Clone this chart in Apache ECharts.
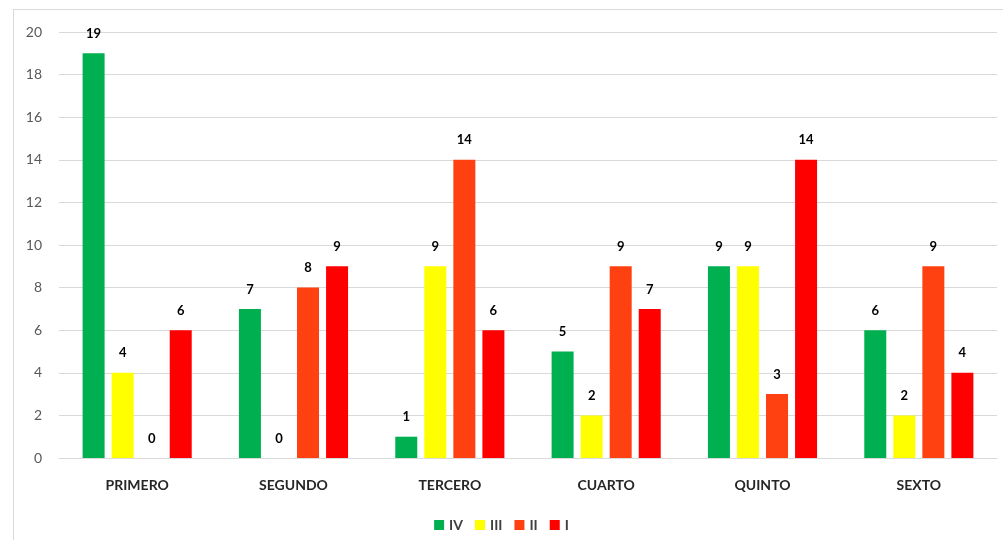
<!DOCTYPE html>
<html><head><meta charset="utf-8">
<script src="https://cdn.jsdelivr.net/npm/echarts@6/dist/echarts.min.js"></script>
<style>html,body{margin:0;padding:0;background:#fff}#c{width:1003px;height:540px}
#frame{position:absolute;left:13px;top:9px;width:995px;height:540px;border:1px solid #d9d9d9;box-sizing:border-box;pointer-events:none}
</style></head><body>
<div id="c"></div><div id="frame"></div>
<script>
const categories = ['PRIMERO','SEGUNDO','TERCERO','CUARTO','QUINTO','SEXTO'];
const seriesNames = ['IV','III','II','I'];
const valuesIV = [19,7,1,5,9,6];
const valuesIII = [4,0,9,2,9,2];
const valuesII = [0,8,14,9,3,9];
const valuesI = [6,9,6,7,14,4];
const colors = ['#00B050','#FFFF00','#FF4011','#FF0000'];
const all = [valuesIV, valuesIII, valuesII, valuesI];
const font = 'Lato, "Open Sans", sans-serif';
const chart = echarts.init(document.getElementById('c'));
chart.setOption({
  animation:false,
  grid:{left:59,right:6,top:32,bottom:82},
  legend:{bottom:3,left:'center',itemWidth:10,itemHeight:10,itemGap:12,icon:'rect',
    textStyle:{fontFamily:font,fontSize:14,fontWeight:'bold',color:'#404040'},data:seriesNames},
  xAxis:{type:'category',data:categories,axisTick:{show:false},
    axisLine:{lineStyle:{color:'#d9d9d9'}},
    axisLabel:{margin:20,fontFamily:font,fontSize:14,fontWeight:'bold',color:'#262626'}},
  yAxis:{type:'value',min:0,max:20,interval:2,
    axisLabel:{margin:17,fontFamily:font,fontSize:14,color:'#595959'},
    splitLine:{lineStyle:{color:'#d9d9d9'}},axisLine:{show:false},axisTick:{show:false}},
  series: all.map((d,i)=>({name:seriesNames[i],type:'bar',data:d,barWidth:22,barGap:'32%',
    itemStyle:{color:colors[i]},
    label:{show:true,position:'top',distance:13,fontFamily:font,fontSize:13,fontWeight:'bold',color:'#000'}}))
});
</script></body></html>
